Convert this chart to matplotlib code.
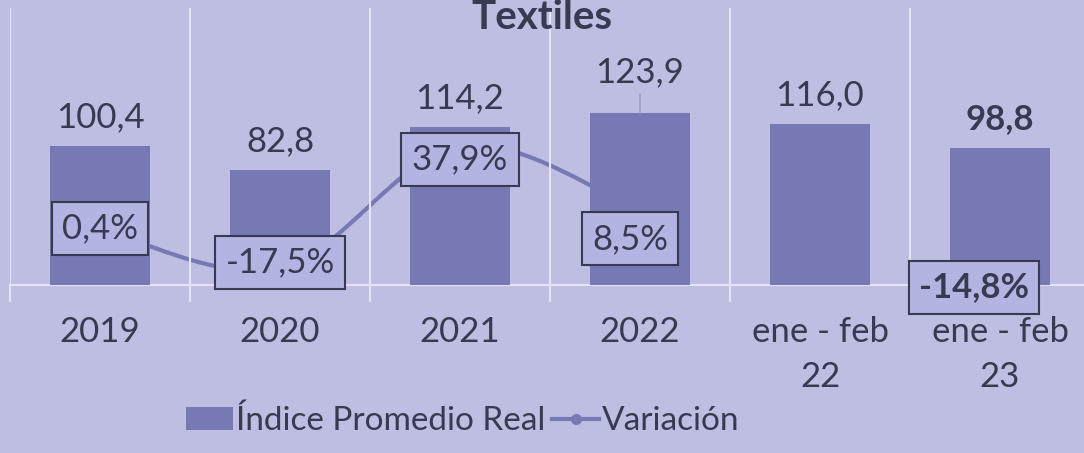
import matplotlib.pyplot as plt
from matplotlib.lines import Line2D
from matplotlib.patches import Patch, PathPatch
from matplotlib.path import Path

categories = ["2019", "2020", "2021", "2022", "ene - feb\n22", "ene - feb\n23"]
indice = [100.4, 82.8, 114.2, 123.9, 116.0, 98.8]
variacion = [0.4, -17.5, 37.9, 8.5, None, -14.8]
indice_labels = ["100,4", "82,8", "114,2", "123,9", "116,0", "98,8"]
variacion_labels = ["0,4%", "-17,5%", "37,9%", "8,5%", None, "-14,8%"]

BG = "#bdbee2"
BAR = "#7779b5"
TXT = "#383a52"
GRID = "#e4e4f2"
BOX = "#b3b4e1"

plt.rcParams["font.family"] = ["Lato", "DejaVu Sans"]

W, H = 1084, 453
fig = plt.figure(figsize=(W / 100, H / 100), dpi=100, facecolor=BG)

# plot area in pixels: x 10..1090, y 8..285
ax = fig.add_axes([10 / W, (H - 285) / H, 1080 / W, 277 / H])
ax2 = ax.twinx()
ax.set_zorder(ax2.get_zorder() + 1)
ax.patch.set_visible(False)
ax2.patch.set_visible(False)

x = list(range(len(categories)))

# smoothed variation line (Excel style), drawn behind the bars
pts = [(i, variacion[i]) for i in range(4)]
verts = [pts[0]]
codes = [Path.MOVETO]
for k in range(len(pts) - 1):
    p0 = pts[k - 1] if k > 0 else pts[k]
    p1, p2 = pts[k], pts[k + 1]
    p3 = pts[k + 2] if k + 2 < len(pts) else pts[k + 1]
    c1 = (p1[0] + (p2[0] - p0[0]) / 6, p1[1] + (p2[1] - p0[1]) / 6)
    c2 = (p2[0] - (p3[0] - p1[0]) / 6, p2[1] - (p3[1] - p1[1]) / 6)
    verts += [c1, c2, p2]
    codes += [Path.CURVE4] * 3
ax2.add_patch(PathPatch(Path(verts, codes), fc="none", ec=BAR, lw=3, zorder=1))
ax2.plot([p[0] for p in pts], [p[1] for p in pts], ls="none", color=BAR,
         marker="o", ms=7, zorder=1)
ax2.plot([5], [variacion[5]], color=BAR, marker="o", ms=7, zorder=1)
ax2.set_ylim(-25, 100)
ax2.axis("off")

ax.bar(x, indice, width=0.556, color=BAR, zorder=2)
ax.set_ylim(0, 200)
ax.set_xlim(-0.5, 5.5)

# value labels on bars
for i, (v, s) in enumerate(zip(indice, indice_labels)):
    if i == 3:
        ax.annotate(s, xy=(i, v), xytext=(0, 31), textcoords="offset pixels",
                    ha="center", va="baseline", fontsize=25, color=TXT,
                    arrowprops=dict(arrowstyle="-", color="#9a9ab8", lw=1,
                                    shrinkA=2, shrinkB=0))
    else:
        ax.annotate(s, xy=(i, v), xytext=(0, 19), textcoords="offset pixels",
                    ha="center", va="baseline", fontsize=25, color=TXT,
                    fontweight="bold" if i == 5 else "normal")

# variation labels in boxes
offsets = [(0, 0), (0, 6), (0, -14), (-10, -28), None, (-26, -25)]
for i, (v, s) in enumerate(zip(variacion, variacion_labels)):
    if v is None:
        continue
    dx, dy = offsets[i]
    y2 = ax.transData.inverted().transform(ax2.transData.transform((i, v)))[1]
    ax.annotate(s, xy=(i, y2), xytext=(dx, dy), textcoords="offset pixels",
                ha="center", va="center", fontsize=25, color=TXT,
                fontweight="bold" if i == 5 else "normal", zorder=5,
                annotation_clip=False,
                bbox=dict(boxstyle="square,pad=0.3", fc=BOX, ec=TXT, lw=1.5))

# axes styling
for sp in ax.spines.values():
    sp.set_visible(False)
ax.axhline(0, color=GRID, lw=1.5, zorder=1, clip_on=False)
ax.set_yticks([])
ax.set_xticks(x)
ax.set_xticklabels(categories, fontsize=25, color=TXT, linespacing=1.5)
ax.tick_params(axis="x", which="major", length=0, pad=22)
ax.set_xticks([i - 0.5 for i in range(len(categories) + 1)], minor=True)
ax.tick_params(axis="x", which="minor", length=12, color=GRID, width=1.5)
ax.grid(True, axis="x", which="minor", color=GRID, lw=1.5, zorder=0)

fig.text(0.5, 1 - 29 / H, "Textiles", ha="center", va="baseline",
         fontsize=29, fontweight="bold", color=TXT)

handles = [
    Patch(facecolor=BAR, edgecolor="none"),
    Line2D([0], [0], color=BAR, lw=3, marker="o", ms=7),
]
fig.legend(handles, ["Índice Promedio Real", "Variación"], loc="center",
           bbox_to_anchor=(463 / W, 1 - 421 / H), ncol=2, frameon=False,
           fontsize=24, labelcolor=TXT, handlelength=1.4, handleheight=0.7,
           handletextpad=0.1, columnspacing=0.2, borderaxespad=0)

fig.savefig("out.png", dpi=100, facecolor=BG)
